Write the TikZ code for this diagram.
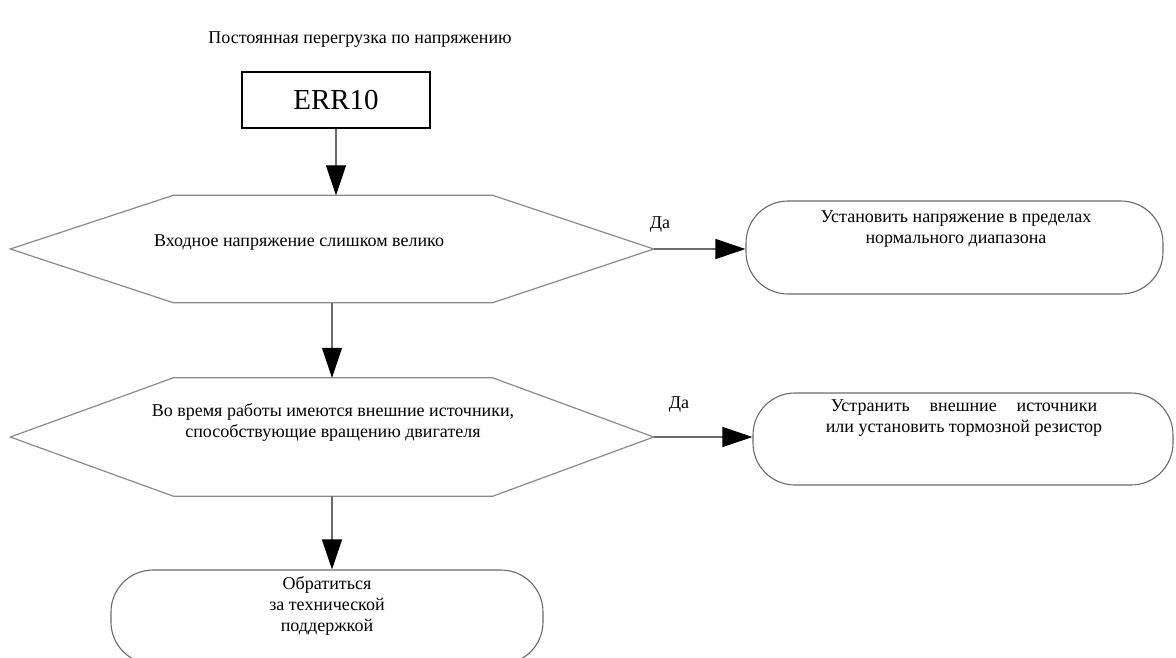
\documentclass[tikz,border=0pt]{standalone}
\usepackage{fontspec}
\setmainfont{Liberation Serif}
\usetikzlibrary{arrows.meta,positioning}
\definecolor{linex}{HTML}{6A6A6A}
\definecolor{edgex}{HTML}{8A8A8A}
\tikzset{
  arr/.style={-{Triangle[length=30pt,width=20pt,color=black]},line width=1.1pt,linex},
  edge/.style={line width=1.2pt,edgex},
  errbox/.style={draw=black,line width=2.2pt,minimum width=188pt,minimum height=56pt,inner sep=0pt,font=\fontsize{29}{34}\selectfont},
  decision/.style={minimum width=643pt,minimum height=107pt,inner sep=0pt},
  endbox/.style={rectangle,rounded corners=42pt,draw=linex,line width=1.1pt,inner sep=0pt},
  txt/.style={align=center,inner sep=0pt,font=\fontsize{18}{21}\selectfont},
  lbl/.style={inner sep=0pt,font=\fontsize{18}{21}\selectfont}
}
\begin{document}
\begin{tikzpicture}[x=1pt,y=-1pt]
\useasboundingbox (0,0) rectangle (1176,657);
\clip (0,0) rectangle (1176,657);
\node[lbl] (title) at (360,40) {Постоянная перегрузка по напряжению};
\node[errbox] (err) at (336,100) {ERR10};
% decisions
\node[decision] (q1) at (332,249) {};
\node[decision,minimum height=118pt] (q2) at (332,437) {};
\foreach \n in {q1,q2}
  \draw[edge] (\n.west) -- ([xshift=163pt]\n.north west) -- ([xshift=-161pt]\n.north east)
    -- (\n.east) -- ([xshift=-161pt]\n.south east) -- ([xshift=163pt]\n.south west) -- cycle;
\node[txt] (t1) at (299,243) {Входное напряжение слишком велико};
\node[txt] (t2) at (333,422) {Во время работы имеются внешние источники,\\способствующие вращению двигателя};
% actions
\node[endbox,minimum width=417pt,minimum height=93pt] (fix1) at (954.5,247.5) {};
\node[txt] (t3) at (956,229) {Установить напряжение в пределах\\нормального диапазона};
\node[endbox,minimum width=420pt,minimum height=92pt] (fix2) at (963,439) {};
\node[txt] (t4) at (964,418) {Устранить\hspace{1.1em}внешние\hspace{1.1em}источники\\или установить тормозной резистор};
\node[endbox,minimum width=432pt,minimum height=94pt] (help) at (327,617) {};
\node[txt] (t5) at (327,606) {Обратиться\\за технической\\поддержкой};
% connectors
\draw[arr] (err.south) -- (err.south |- q1.north);
\draw[arr] (q1.south) -- (q2.north);
\draw[arr] (q2.south) -- (q2.south |- help.north);
\draw[arr] (q1.east) -- (q1.east -| fix1.west);
\draw[arr] (q2.east) -- (q2.east -| fix2.west);
\node[lbl] (yes1) at (660,225) {Да};
\node[lbl] (yes2) at (679,405) {Да};
\end{tikzpicture}
\end{document}
